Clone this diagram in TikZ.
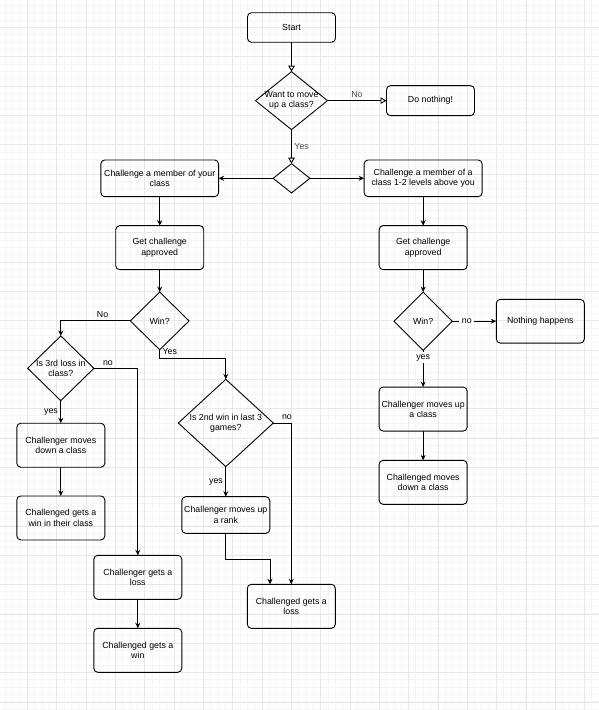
\documentclass[tikz,border=0pt]{standalone}
\usepackage{fontspec}
\setmainfont{Liberation Sans}
\usetikzlibrary{shapes.geometric,arrows.meta,positioning}

\begin{document}
\begin{tikzpicture}[x=1pt,y=-1pt,
    font=\fontsize{8.8}{10.4}\selectfont,
    line width=0.9pt,
    box/.style={draw,rounded corners=4pt,minimum width=88pt,minimum height=44pt,align=center,inner sep=1pt,outer sep=0pt},
    decision/.style={draw,diamond,inner sep=0pt,outer sep=0pt},
    lbl/.style={inner sep=2.5pt},
    go/.style={-{Stealth[length=5.5pt,width=5pt]}},
    hollow/.style={-{Triangle[open,length=6pt,width=6.5pt,fill=white]}}
  ]
    \useasboundingbox (0,0) rectangle (599,710);
    % background grid
    \begin{scope}[shift={(27.3,27.3)}]
      \draw[gray!8,line width=0.6pt,step=7.33pt] (-27.3,682.7) grid (571.7,-27.3);
      \draw[gray!18,line width=0.6pt,step=29.33pt] (-27.3,682.7) grid (571.7,-27.3);
    \end{scope}

    \node[box,minimum height=29.5pt] (start) at (291.5,27.5) {Start};
    \node[decision,minimum width=72pt,minimum height=58pt,below=29.4pt of start,
          label={[align=center]center:Want to move\\up a class?}] (want) {};
    \node[box,minimum height=30pt,right=59pt of want] (nothing) {Do nothing!};
    \node[decision,minimum width=36.7pt,minimum height=29.3pt,below=34pt of want] (split) {};
    \node[box,minimum width=117.7pt,minimum height=36.7pt,left=54.6pt of split] (own) {Challenge a member of your\\class};
    \node[box,minimum width=118pt,minimum height=36.7pt,right=54.3pt of split] (above) {Challenge a member of a\\class 1-2 levels above you};
    \node[box,below=29pt of own] (approveleft) {Get challenge\\approved};
    \node[box,below=29pt of above] (approveright) {Get challenge\\approved};
    \node[decision,minimum width=58.7pt,minimum height=57.7pt,below=22.4pt of approveleft,
          label=center:Win?] (winleft) {};
    \node[decision,minimum width=58.3pt,minimum height=58.3pt,below=22.4pt of approveright,
          label=center:Win?] (winright) {};

    % left branch
    \node[decision,minimum width=66.3pt,minimum height=64.7pt,
          label={[align=center]center:Is 3rd loss in\\class?}] (third) at (60.8,368.3) {};
    \node[box,below=22.6pt of third] (down) {Challenger moves\\down a class};
    \node[box,below=28.7pt of down] (gotwin) {Challenged gets a\\win in their class};
    \node[box] (gotloss) at (137.8,577.3) {Challenger gets a\\loss};
    \node[box,below=29pt of gotloss] (theywin) {Challenged gets a\\win};
    \node[decision,minimum width=95pt,minimum height=87.3pt,
          label={[align=center]center:Is 2nd win in last 3\\games?}] (second) at (225.8,423) {};
    \node[box,minimum height=36.7pt,below=30pt of second] (uprank) {Challenger moves up\\a rank};
    \node[box] (theyloss) at (291.3,606.3) {Challenged gets a\\loss};

    % right branch
    \node[box,minimum height=43.7pt,right=44pt of winright] (happens) {Nothing happens};
    \node[box,below=36.7pt of winright] (upclass) {Challenger moves up\\a class};
    \node[box,below=29.3pt of upclass] (downclass) {Challenged moves\\down a class};

    \draw[hollow] (start) -- (want);
    \draw[hollow] (want) -- node[lbl,above,text=black!70] {No} (nothing);
    \draw[hollow] (want) -- node[lbl,right,text=black!70] {Yes} (split);
    \draw[go] (split.west) -- (own.east);
    \draw[go] (split.east) -- (above.west);
    \draw[go] (own) -- (approveleft);
    \draw[go] (above) -- (approveright);
    \draw[go] (approveleft) -- (winleft);
    \draw[go] (approveright) -- (winright);

    \draw[go] (winleft.west) -| node[lbl,above,pos=0.2] {No} (third.north);
    \draw[go] (third.east) -| node[lbl,above,pos=0.16] {no} (gotloss.north);
    \draw[go] (third) -- node[lbl,left] {yes} (down);
    \draw[go] (down) -- (gotwin);
    \draw[go] (winleft.south) -- node[lbl,right,pos=0.2] {Yes} ++(0,8.4) -| (second.north);
    \draw[go] (second.east) -| node[lbl,above,pos=0.38] {no} (theyloss.north);
    \draw[go] (second) -- node[lbl,left] {yes} (uprank);
    \coordinate (elbow) at (270,559.3);
    \draw[go] (uprank.south) |- (elbow) -- (elbow |- theyloss.north);
    \draw[go] (gotloss) -- (theywin);

    \draw[go] (winright) -- node[lbl,fill=white,pos=0.2] {yes} (upclass);
    \draw[go] (winright) -- node[lbl,fill=white,pos=0.33] {no} (happens);
    \draw[go] (upclass) -- (downclass);
\end{tikzpicture}
\end{document}
